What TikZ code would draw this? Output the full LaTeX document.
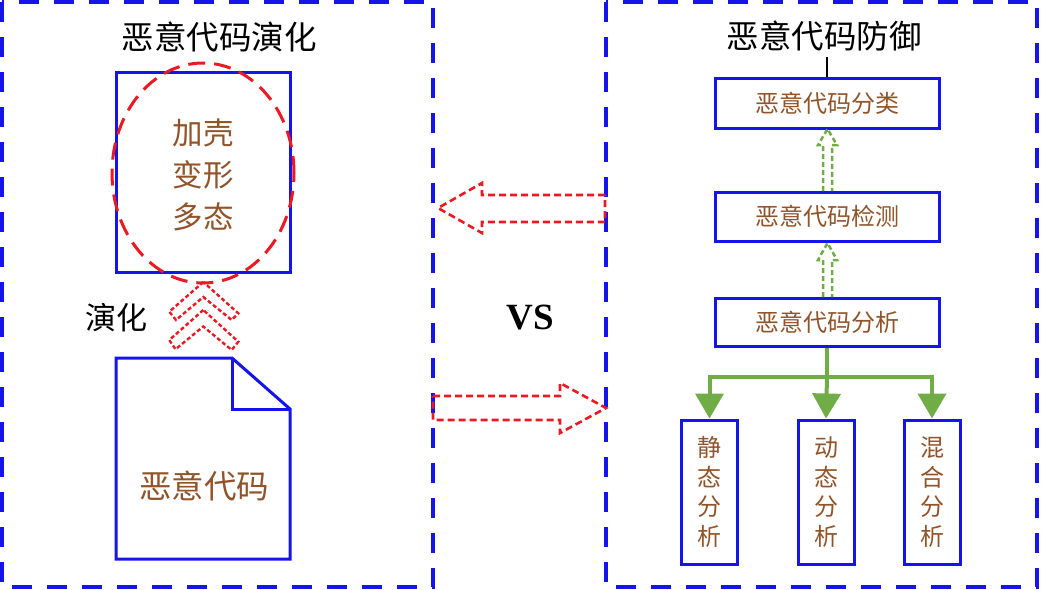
\documentclass[tikz,border=0pt]{standalone}
\usepackage{fontspec}
\newfontfamily\cjk{Noto Sans CJK SC}
\newfontfamily\vsfont{Liberation Serif}
\usetikzlibrary{shapes.geometric,arrows.meta}
\definecolor{bblue}{RGB}{20,20,235}
\definecolor{rred}{RGB}{235,25,35}
\definecolor{ggreen}{RGB}{112,173,71}
\definecolor{tbrown}{RGB}{145,84,42}
\tikzset{
  outerbox/.style={draw=bblue,line width=3.2pt,dash pattern=on 20pt off 15pt},
  bluebox/.style={draw=bblue,line width=3pt,inner sep=0pt,fill=none},
  btext/.style={text=tbrown,font=\cjk\fontsize{24}{29.7}\selectfont,align=center},
  titletext/.style={text=black,font=\cjk\fontsize{32.5}{36}\selectfont},
  redarrow/.style={draw=rred,line width=2.6pt,dash pattern=on 7pt off 4pt,line join=miter},
  chevron/.style={draw=rred,line width=2.4pt,dash pattern=on 4pt off 2.5pt},
  greenarrow/.style={draw=ggreen,line width=2.5pt,dash pattern=on 5pt off 3pt},
  treeline/.style={draw=ggreen,line width=4pt},
  treearrow/.style={treeline,-{Triangle[width=28pt,length=25pt]}}
}
\begin{document}
\begin{tikzpicture}[x=1pt,y=-1pt]
\useasboundingbox (0,0) rectangle (1041,589);
\fill[white] (0,0) rectangle (1041,589);
% outer boxes
\draw[outerbox] (2,2) rectangle (433,587);
\draw[outerbox] (606,2) rectangle (1037,587);
% left titles
\node[titletext] (ltitle) at (219,37) {恶意代码演化};
\node[bluebox,minimum width=174pt,minimum height=200pt] (topbox) at (203,172) {};
\node[draw=rred,line width=3pt,dash pattern=on 17pt off 9pt,ellipse,minimum width=182pt,minimum height=220pt,inner sep=0pt] (ell) at (203,173) {};
\node[text=tbrown,font=\cjk\fontsize{30.5}{42}\selectfont,align=center] (evo) at (203,175) {加壳\\变形\\多态};
% document
\draw[bblue,line width=3pt,line join=miter] (116,358) -- (232,358) -- (290,409) -- (290,559) -- (116,559) -- cycle;
\draw[bblue,line width=3pt,line join=miter] (232,358) -- (232,409) -- (290,409);
\node[text=tbrown,font=\cjk\fontsize{32.5}{36}\selectfont] (doc) at (204,486) {恶意代码};
% chevrons
\draw[chevron] (203.3,282) -- (169.3,311.7) -- (176,320) -- (203.3,297) -- (231.7,320) -- (238.3,313.3) -- cycle;
\draw[chevron] (203.3,310) -- (169.3,340) -- (175.5,349.3) -- (203.3,326.5) -- (231.7,350) -- (238.3,341.7) -- cycle;
\node[titletext,font=\cjk\fontsize{31}{34}\selectfont] (evlabel) at (116,318) {演化};
% middle arrows
\draw[redarrow] (605,195) -- (482,195) -- (482,183) -- (438,208) -- (482,233) -- (482,222) -- (605,222) -- cycle;
\draw[redarrow] (433,396) -- (560,396) -- (560,383) -- (606,408) -- (560,433) -- (560,420) -- (433,420) -- cycle;
\node[font=\vsfont\bfseries\fontsize{37}{40}\selectfont] (vs) at (530,318) {VS};
% right side
\node[titletext] (rtitle) at (824,36) {恶意代码防御};
\node[bluebox,minimum width=224pt,minimum height=50pt,btext] (cls) at (827,103) {恶意代码分类};
\node[bluebox,minimum width=224pt,minimum height=49pt,btext] (det) at (827,216.5) {恶意代码检测};
\node[bluebox,minimum width=224pt,minimum height=48pt,btext] (ana) at (827,322) {恶意代码分析};
\draw[black,line width=2pt] (cls.north) -- ++(0,-20);
% green dashed hollow arrows
\draw[greenarrow] (823,191) -- (823,145) -- (818,145) -- (827.5,129) -- (837,145) -- (832,145) -- (832,191);
\draw[greenarrow] (823,297) -- (823,260) -- (818,260) -- (827.5,243) -- (837,260) -- (832,260) -- (832,297);
% bottom boxes
\node[bluebox,minimum width=56pt,minimum height=144pt,btext] (sta) at (709.5,492) {静\\态\\分\\析};
\node[bluebox,minimum width=56pt,minimum height=144pt,btext] (dyn) at (826,492) {动\\态\\分\\析};
\node[bluebox,minimum width=56pt,minimum height=144pt,btext] (mix) at (932,492) {混\\合\\分\\析};
% tree
\coordinate (hub) at (ana.south |- 0,377);
\coordinate (hl) at (sta.north |- 0,377);
\coordinate (hr) at (mix.north |- 0,377);
\draw[treeline] (ana.south) -- (hub);
\draw[treeline,line cap=rect] (hl) -- (hr);
\draw[treearrow] (hl) -- (sta.north);
\draw[treearrow] (hub) -- (dyn.north);
\draw[treearrow] (hr) -- (mix.north);
\end{tikzpicture}
\end{document}
